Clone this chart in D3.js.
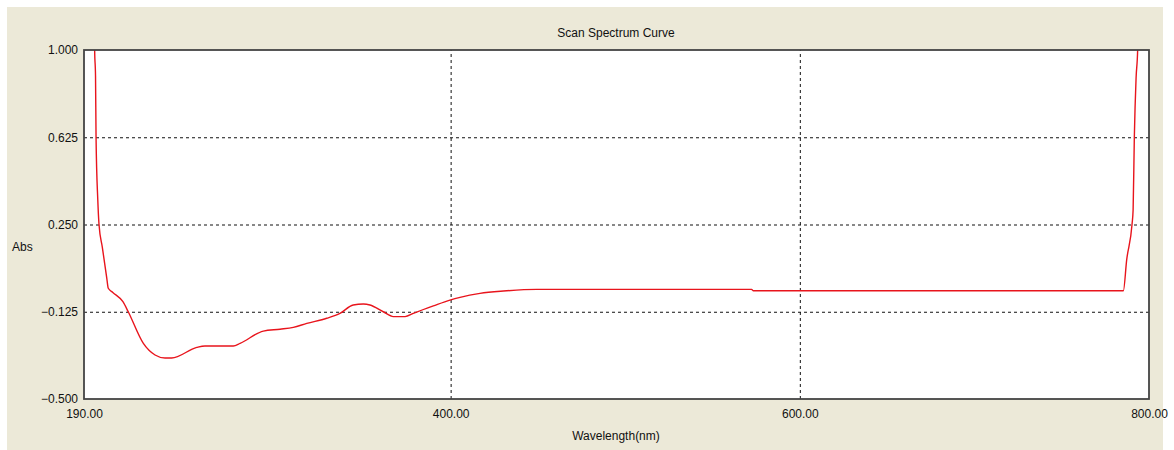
<!DOCTYPE html>
<html>
<head>
<meta charset="utf-8">
<script src="https://cdn.jsdelivr.net/npm/d3@7"></script>
<style>
  body { margin: 0; background: #fff; }
  text { font-family: "Liberation Sans", "DejaVu Sans", sans-serif; fill: #111; }
</style>
</head>
<body>
<div id="chart"></div>
<script>
// spectrum readings (wavelength in nm, absorbance)
const wavelengths = [196.0, 196.1, 196.6, 196.9, 197.9, 198.6, 200.5, 203.0, 203.9, 206.5, 212.3, 215.4, 224.0, 230.7, 236.4,
    240.2, 254.6, 259.3, 275.5, 279.4, 292.7, 302.3, 309.9, 317.6, 329.0, 336.6, 344.2, 350.0,
    353.8, 361.4, 367.2, 373.9, 378.6, 390.1, 399.6, 405.4, 416.8, 430.2, 449.3, 572.4, 573.4,
    785.3, 787.2, 790.3, 790.9, 791.6, 792.6, 793.5, 793.6];
const absorbance = [1.05, 1.0, 0.888, 0.625, 0.355, 0.25, 0.152, 0.022, -0.024, -0.042, -0.082, -0.126, -0.261, -0.311, -0.324,
    -0.324, -0.278, -0.272, -0.272, -0.261, -0.208, -0.200, -0.192, -0.175, -0.153, -0.132, -0.096, -0.092,
    -0.096, -0.125, -0.146, -0.146, -0.132, -0.100, -0.075, -0.063, -0.046, -0.036, -0.029, -0.029, -0.035,
    -0.035, 0.097, 0.252, 0.312, 0.626, 0.880, 1.0, 1.05];

const xTicks = [190, 400, 600, 800];
const yTicks = [1.0, 0.625, 0.25, -0.125, -0.5];
const xGrid = [400, 600];
const yGrid = [0.625, 0.25, -0.125];

const width = 1174, height = 450;
const margin = { top: 50, right: 25, bottom: 51, left: 84 };
const innerW = width - margin.left - margin.right;
const innerH = height - margin.top - margin.bottom;

const svg = d3.select("#chart")
    .append("svg")
    .attr("width", width)
    .attr("height", height);

// beige window panel
svg.append("rect")
    .attr("x", 7).attr("y", 7)
    .attr("width", 1156).attr("height", 443)
    .attr("fill", "#ece9d8");

const g = svg.append("g")
    .attr("transform", `translate(${margin.left}, ${margin.top})`);

const x = d3.scaleLinear().domain([190, 800]).range([0, innerW]);
const y = d3.scaleLinear().domain([-0.5, 1.0]).range([innerH, 0]);

g.append("rect")
    .attr("width", innerW)
    .attr("height", innerH)
    .attr("fill", "#fff");

// dashed grid lines
g.append("g")
    .attr("transform", `translate(0, ${innerH})`)
    .call(d3.axisBottom(x).tickValues(xGrid).tickSize(-innerH).tickFormat(""))
    .call(s => s.select(".domain").remove())
    .selectAll("line")
    .attr("stroke", "#111")
    .attr("stroke-dasharray", "3,3");

g.append("g")
    .call(d3.axisLeft(y).tickValues(yGrid).tickSize(-innerW).tickFormat(""))
    .call(s => s.select(".domain").remove())
    .selectAll("line")
    .attr("stroke", "#111")
    .attr("stroke-dasharray", "3,3");

// curve
g.append("clipPath").attr("id", "clip")
    .append("rect").attr("width", innerW).attr("height", innerH);

const line = d3.line()
    .x((d, i) => x(wavelengths[i]))
    .y(d => y(d))
    .curve(d3.curveMonotoneX);

g.append("path")
    .datum(absorbance)
    .attr("clip-path", "url(#clip)")
    .attr("d", line)
    .attr("fill", "none")
    .attr("stroke", "#e8141c")
    .attr("stroke-width", 1.4);

// frame
g.append("rect")
    .attr("width", innerW)
    .attr("height", innerH)
    .attr("fill", "none")
    .attr("stroke", "#444")
    .attr("stroke-width", 1.8);

// axes labels
const yAxis = g.append("g")
    .call(d3.axisLeft(y).tickValues(yTicks).tickSize(0).tickPadding(6).tickFormat(d3.format(".3f")));
yAxis.select(".domain").remove();
yAxis.selectAll("text").style("font-size", "12px").attr("fill", "#111");

const xAxis = g.append("g")
    .attr("transform", `translate(0, ${innerH})`)
    .call(d3.axisBottom(x).tickValues(xTicks).tickSize(0).tickPadding(10).tickFormat(d3.format(".2f")));
xAxis.select(".domain").remove();
xAxis.selectAll("text").style("font-size", "12px").attr("fill", "#111");

svg.append("text")
    .attr("x", 616).attr("y", 37)
    .attr("text-anchor", "middle")
    .style("font-size", "12px")
    .text("Scan Spectrum Curve");

svg.append("text")
    .attr("x", 12).attr("y", 251)
    .style("font-size", "12px")
    .text("Abs");

svg.append("text")
    .attr("x", 616).attr("y", 440)
    .attr("text-anchor", "middle")
    .style("font-size", "12px")
    .text("Wavelength(nm)");
</script>
</body>
</html>
